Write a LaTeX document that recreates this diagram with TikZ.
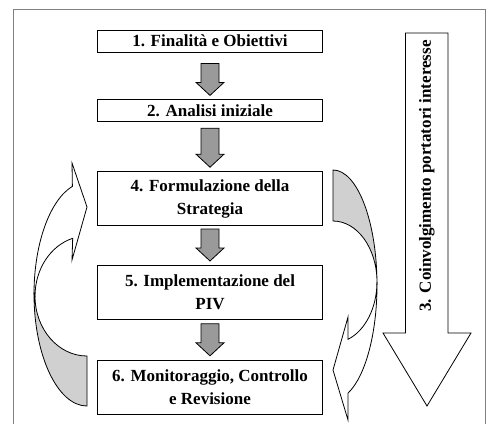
\documentclass[tikz,border=0pt]{standalone}
\usepackage{fontspec}
\setmainfont{Liberation Serif}
\usetikzlibrary{positioning,calc}
\definecolor{arrowgray}{HTML}{9A9A9A}
\definecolor{backgray}{HTML}{D0D0D0}
\definecolor{framegray}{HTML}{808080}
\newcommand{\flowarrow}[3]{%
	\draw [black, fill=arrowgray] let \p1=(#1.south), \p2=(#2.north) in
		(\x1-9pt,\y1-#3) -- (\x1+9pt,\y1-#3) -- (\x1+9pt,\y2+17pt) -- (\x1+14pt,\y2+17pt)
		-- (\x1,\y2+4pt) -- (\x1-14pt,\y2+17pt) -- (\x1-9pt,\y2+17pt) -- cycle;}

\begin{document}
\begin{tikzpicture}[x=1pt,y=1pt,line width=0.8pt,
		stepbox/.style={draw=black, fill=white, minimum width=225pt, inner sep=0pt, align=center,
			font=\bfseries\fontsize{17}{23}\selectfont},
		shortbox/.style={stepbox, minimum height=22pt},
		tallbox/.style={stepbox, minimum height=54pt}]
		\useasboundingbox (0,0) rectangle (487,-424);
		\draw [framegray] (13,-424) -- (13,-9) -- (485,-9) -- (485,-424);
		\node [shortbox] (fin) at (210,-41) {1. Finalità e Obiettivi};
		\node [shortbox, below=47pt of fin] (anal) {2. Analisi iniziale};
		\node [tallbox, below=49pt of anal] (strat) {4. Formulazione della\\Strategia};
		\node [tallbox, below=39pt of strat] (impl) {5. Implementazione del\\PIV};
		\node [tallbox, below=40pt of impl] (monit) {6. Monitoraggio, Controllo\\e Revisione};
		\flowarrow{fin}{anal}{11pt}
		\flowarrow{anal}{strat}{6pt}
		\flowarrow{strat}{impl}{3pt}
		\flowarrow{impl}{monit}{4pt}
		\draw [black] (405.5,-33) -- (448,-33) -- (448,-333) -- (471,-333) -- (427,-406)
			-- (383,-333) -- (405.5,-333) -- cycle;
		\node [rotate=90, font=\bfseries\fontsize{17}{23}\selectfont] (coinv) at (426.75,-176)
			{3. Coinvolgimento portatori interesse};
		\draw [black, fill=backgray] (87,-406) arc [start angle=270, end angle=180, x radius=53, y radius=112]
			-- (35,-296) arc [start angle=180, end angle=270, x radius=52, y radius=60] -- cycle;
		\draw [black, fill=white] (34,-294) arc [start angle=180, end angle=106, x radius=53, y radius=112]
			-- (72,-163) -- (87,-207) -- (72,-260) -- (72.7,-238.3)
			arc [start angle=106, end angle=180, x radius=52, y radius=60] -- cycle;
		\draw [black, fill=backgray] (333,-170) arc [start angle=90, end angle=0, x radius=44, y radius=115]
			-- (377,-282) arc [start angle=0, end angle=90, x radius=44, y radius=61] -- cycle;
		\draw [black, fill=white] (377,-285) arc [start angle=0, end angle=-70, x radius=44, y radius=115]
			-- (348,-420) -- (333,-370) -- (348,-317) -- (348,-339.3)
			arc [start angle=-70, end angle=0, x radius=44, y radius=61] -- cycle;
		\end{tikzpicture}
\end{document}
